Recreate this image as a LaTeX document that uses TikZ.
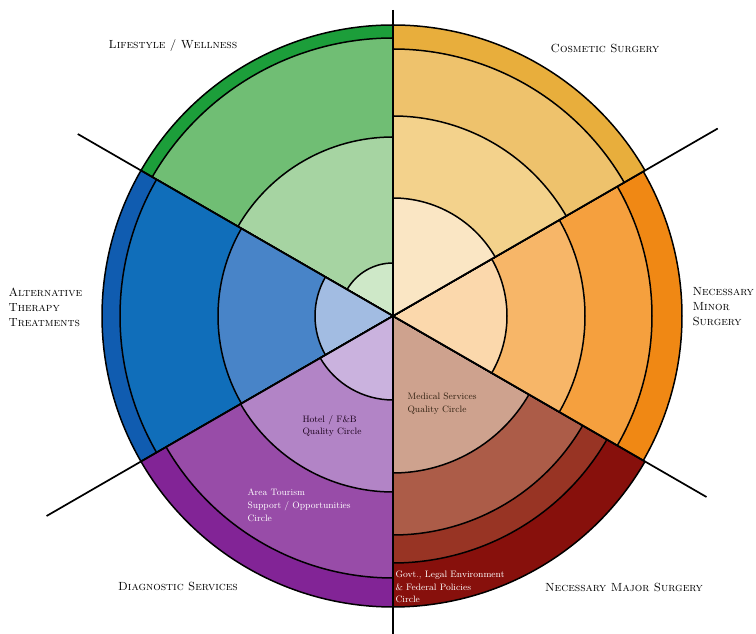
\documentclass[tikz,border=0pt]{standalone}
\usepackage{xcolor}
\usepackage{tikz}
\usetikzlibrary{calc}

% ring colours, outer to inner
\definecolor{lwA}{RGB}{28,158,58}
\definecolor{lwB}{RGB}{112,190,116}
\definecolor{lwC}{RGB}{166,212,162}
\definecolor{lwD}{RGB}{206,232,200}
\definecolor{csA}{RGB}{232,174,60}
\definecolor{csB}{RGB}{238,194,108}
\definecolor{csC}{RGB}{243,210,140}
\definecolor{csD}{RGB}{250,230,196}
\definecolor{nmA}{RGB}{240,136,20}
\definecolor{nmB}{RGB}{245,160,62}
\definecolor{nmC}{RGB}{247,182,104}
\definecolor{nmD}{RGB}{251,216,172}
\definecolor{mjA}{RGB}{135,16,12}
\definecolor{mjB}{RGB}{152,52,36}
\definecolor{mjC}{RGB}{172,92,72}
\definecolor{mjD}{RGB}{206,162,142}
\definecolor{dgA}{RGB}{130,36,150}
\definecolor{dgB}{RGB}{152,76,168}
\definecolor{dgC}{RGB}{178,132,198}
\definecolor{dgD}{RGB}{202,178,222}
\definecolor{atA}{RGB}{16,92,176}
\definecolor{atB}{RGB}{16,110,186}
\definecolor{atC}{RGB}{72,132,200}
\definecolor{atD}{RGB}{162,188,226}

\tikzset{
	ring/.style={draw=black, line width=1.5pt, line join=round},
	spoke/.style={draw=black, line width=1.7pt},
	sector/.style={font=\fontsize{11.8}{15}\selectfont\scshape, align=left},
	circ/.style={font=\fontsize{9.3}{12.8}\selectfont, align=left, anchor=west}
}

\begin{document}
\begin{tikzpicture}[x=1pt,y=1pt]
		\useasboundingbox (0,0) rectangle (756,634);
		\coordinate (c) at (393,318);

		%Lifestyle / Wellness
		\foreach \r/\col in {291/lwA,278/lwB,179/lwC,53/lwD}{
			\filldraw[ring, fill=\col] (c) -- ($(c)+(90:\r pt)$) arc[start angle=90, end angle=150, radius=\r pt] -- cycle;
		}
		% Alternative Therapy
		\foreach \r/\col in {291/atA,273/atB,175/atC,78/atD}{
			\filldraw[ring, fill=\col] (c) -- ($(c)+(150:\r pt)$) arc[start angle=150, end angle=210, radius=\r pt] -- cycle;
		}
		% Diagnostic Services
		\foreach \r/\col in {291/dgA,262/dgB,176/dgC,84/dgD}{
			\filldraw[ring, fill=\col] (c) -- ($(c)+(210:\r pt)$) arc[start angle=210, end angle=270, radius=\r pt] -- cycle;
		}
		% Necessary Major Surgery
		\foreach \r/\col in {291/mjA,247/mjB,219/mjC,157/mjD}{
			\filldraw[ring, fill=\col] (c) -- ($(c)+(270:\r pt)$) arc[start angle=270, end angle=330, radius=\r pt] -- cycle;
		}
		% Necessary Minor Surgery
		\foreach \r/\col in {289/nmA,259/nmB,192/nmC,114/nmD}{
			\filldraw[ring, fill=\col] (c) -- ($(c)+(-30:\r pt)$) arc[start angle=-30, end angle=30, radius=\r pt] -- cycle;
		}
		% Cosmetic Surgery
		\foreach \r/\col in {291/csA,267/csB,200/csC,118/csD}{
			\filldraw[ring, fill=\col] (c) -- ($(c)+(30:\r pt)$) arc[start angle=30, end angle=90, radius=\r pt] -- cycle;
		}

		% dividing lines
		\draw[spoke] ($(c)+(90:306pt)$) -- ($(c)+(270:320pt)$);
		\draw[spoke] ($(c)+(30:375pt)$) -- ($(c)+(210:400pt)$);
		\draw[spoke] ($(c)+(150:364pt)$) -- ($(c)+(330:362pt)$);

		% sector labels
		\node[sector] (lw) at (173,588) {Lifestyle / Wellness};
		\node[sector] (cs) at (605,586) {Cosmetic Surgery};
		\node[sector, anchor=west] (nm) at (689,327) {Necessary\\Minor\\Surgery};
		\node[sector, anchor=west] (at) at (5,327) {Alternative\\Therapy\\Treatments};
		\node[sector] (dg) at (178,48) {Diagnostic Services};
		\node[sector] (mj) at (624,47) {Necessary Major Surgery};

		% circle labels
		\node[circ, text=black!80!violet] (hf) at (299,208) {Hotel / F\&B\\Quality Circle};
		\node[circ, text=black!75!brown] (ms) at (404,230) {Medical Services\\Quality Circle};
		\node[circ, text=white] (ts) at (244,129) {Area Tourism\\Support / Opportunities\\Circle};
		\node[circ, text=white] (gv) at (392,47) {Govt., Legal Environment\\\& Federal Policies\\Circle};

	\end{tikzpicture}
\end{document}
